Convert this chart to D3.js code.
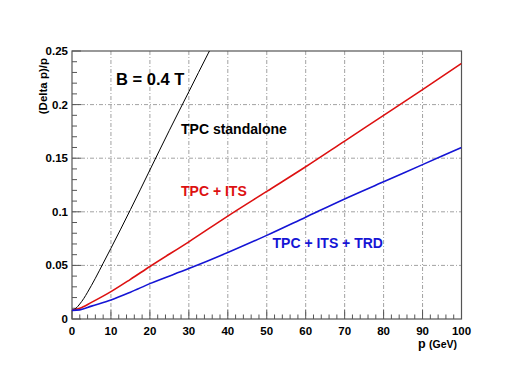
<!DOCTYPE html>
<html><head><meta charset="utf-8">
<script src="https://cdn.jsdelivr.net/npm/d3@7"></script>
<style>body{margin:0;background:#fff}svg{display:block}text{font-family:"Liberation Sans",Arial,sans-serif;font-weight:bold}</style>
</head><body><div id="chart"></div>
<script>
const xTicks=[0,10,20,30,40,50,60,70,80,90,100];
const yTicks=[0,0.05,0.1,0.15,0.2,0.25];
const yTickLabels=["0","0.05","0.1","0.15","0.2","0.25"];
const tpcP=[0,1,2,3,4,6,8,10,15,20,25,30,35,36];
const tpcV=[0.008,0.010,0.014,0.019,0.025,0.038,0.052,0.066,0.102,0.139,0.176,0.212,0.248,0.255];
const itsP=[0,2,5,10,15,20,30,40,50,60,70,80,90,100];
const itsV=[0.008,0.010,0.0155,0.0255,0.037,0.049,0.072,0.096,0.119,0.142,0.166,0.19,0.214,0.2385];
const trdP=[0,2,5,10,15,20,30,40,50,60,70,80,90,100];
const trdV=[0.008,0.0085,0.012,0.0177,0.025,0.033,0.047,0.062,0.078,0.095,0.112,0.128,0.144,0.16];
const seriesNames=["TPC standalone","TPC + ITS","TPC + ITS + TRD"];
const seriesColors=["#000000","#dd1111","#1515d5"];

const W=515,H=387,L=72,R=461.5,T=51,B=319;
const svg=d3.select("#chart").append("svg").attr("width",W).attr("height",H);
svg.append("rect").attr("width",W).attr("height",H).attr("fill","#fff");
const x=d3.scaleLinear().domain([0,100]).range([L,R]);
const y=d3.scaleLinear().domain([0,0.25]).range([B,T]);

// grid
const g=svg.append("g");
g.selectAll(".gx").data(xTicks.slice(1,-1)).enter().append("line")
 .attr("x1",d=>x(d)).attr("x2",d=>x(d)).attr("y1",T).attr("y2",B)
 .attr("stroke","#8a8a8a").attr("stroke-width",0.8).attr("stroke-dasharray","4,2,1,2");
g.selectAll(".gy").data(yTicks.slice(1,-1)).enter().append("line")
 .attr("y1",d=>y(d)).attr("y2",d=>y(d)).attr("x1",L).attr("x2",R)
 .attr("stroke","#8a8a8a").attr("stroke-width",0.8).attr("stroke-dasharray","4,2,1,2");

// minor/major ticks inside frame
const xMinor=d3.range(0,101,2);
svg.append("g").selectAll("line").data(xMinor).enter().append("line")
 .attr("x1",d=>x(d)).attr("x2",d=>x(d)).attr("y1",B).attr("y2",d=>B-(d%10===0?9:4.5))
 .attr("stroke","#555").attr("stroke-width",1);
const yMinor=d3.range(0,26,1).map(i=>i*0.01);
svg.append("g").selectAll("line").data(yMinor).enter().append("line")
 .attr("y1",d=>y(d)).attr("y2",d=>y(d)).attr("x1",L).attr("x2",(d,i)=>L+(i%5===0?9:5))
 .attr("stroke","#555").attr("stroke-width",1);

// frame
svg.append("rect").attr("x",L).attr("y",T).attr("width",R-L).attr("height",B-T)
 .attr("fill","none").attr("stroke","#555").attr("stroke-width",1.2);

// tick labels
svg.append("g").selectAll("text").data(xTicks).enter().append("text")
 .attr("x",d=>x(d)).attr("y",334.5).attr("text-anchor","middle")
 .attr("font-size",11.5).attr("fill","#000").text(d=>d);
svg.append("g").selectAll("text").data(yTicks).enter().append("text")
 .attr("x",68).attr("y",d=>y(d)+4).attr("text-anchor","end")
 .attr("font-size",11.5).attr("fill","#000").text((d,i)=>yTickLabels[i]);

// axis titles
const xt=svg.append("text").attr("x",457).attr("y",347.5).attr("text-anchor","end").attr("fill","#000");
xt.append("tspan").attr("font-size",12.5).text("p ");
xt.append("tspan").attr("font-size",10.5).text("(GeV)");
svg.append("text").attr("transform","translate(47,58) rotate(-90)").attr("text-anchor","end")
 .attr("font-size",11.5).attr("fill","#000").text("(Delta p)/p");

// curves
svg.append("clipPath").attr("id","clip").append("rect").attr("x",L).attr("y",T).attr("width",R-L).attr("height",B-T);
const line=d3.line().x(d=>x(d[0])).y(d=>y(d[1])).curve(d3.curveMonotoneX);
const data=[d3.zip(tpcP,tpcV),d3.zip(itsP,itsV),d3.zip(trdP,trdV)];
const widths=[1,1.6,1.6];
data.forEach((d,i)=>{
 svg.append("path").datum(d).attr("d",line).attr("fill","none")
  .attr("stroke",seriesColors[i]).attr("stroke-width",widths[i]).attr("clip-path","url(#clip)");
});

// labels
const lab=[[181,134],[181,196],[272.5,247.5]];
seriesNames.forEach((n,i)=>{
 svg.append("text").attr("x",lab[i][0]).attr("y",lab[i][1]).attr("font-size",14)
  .attr("fill",seriesColors[i]).text(n);
});
svg.append("text").attr("x",116).attr("y",84.5).attr("font-size",16.5).attr("fill","#000").text("B = 0.4 T");
</script></body></html>
